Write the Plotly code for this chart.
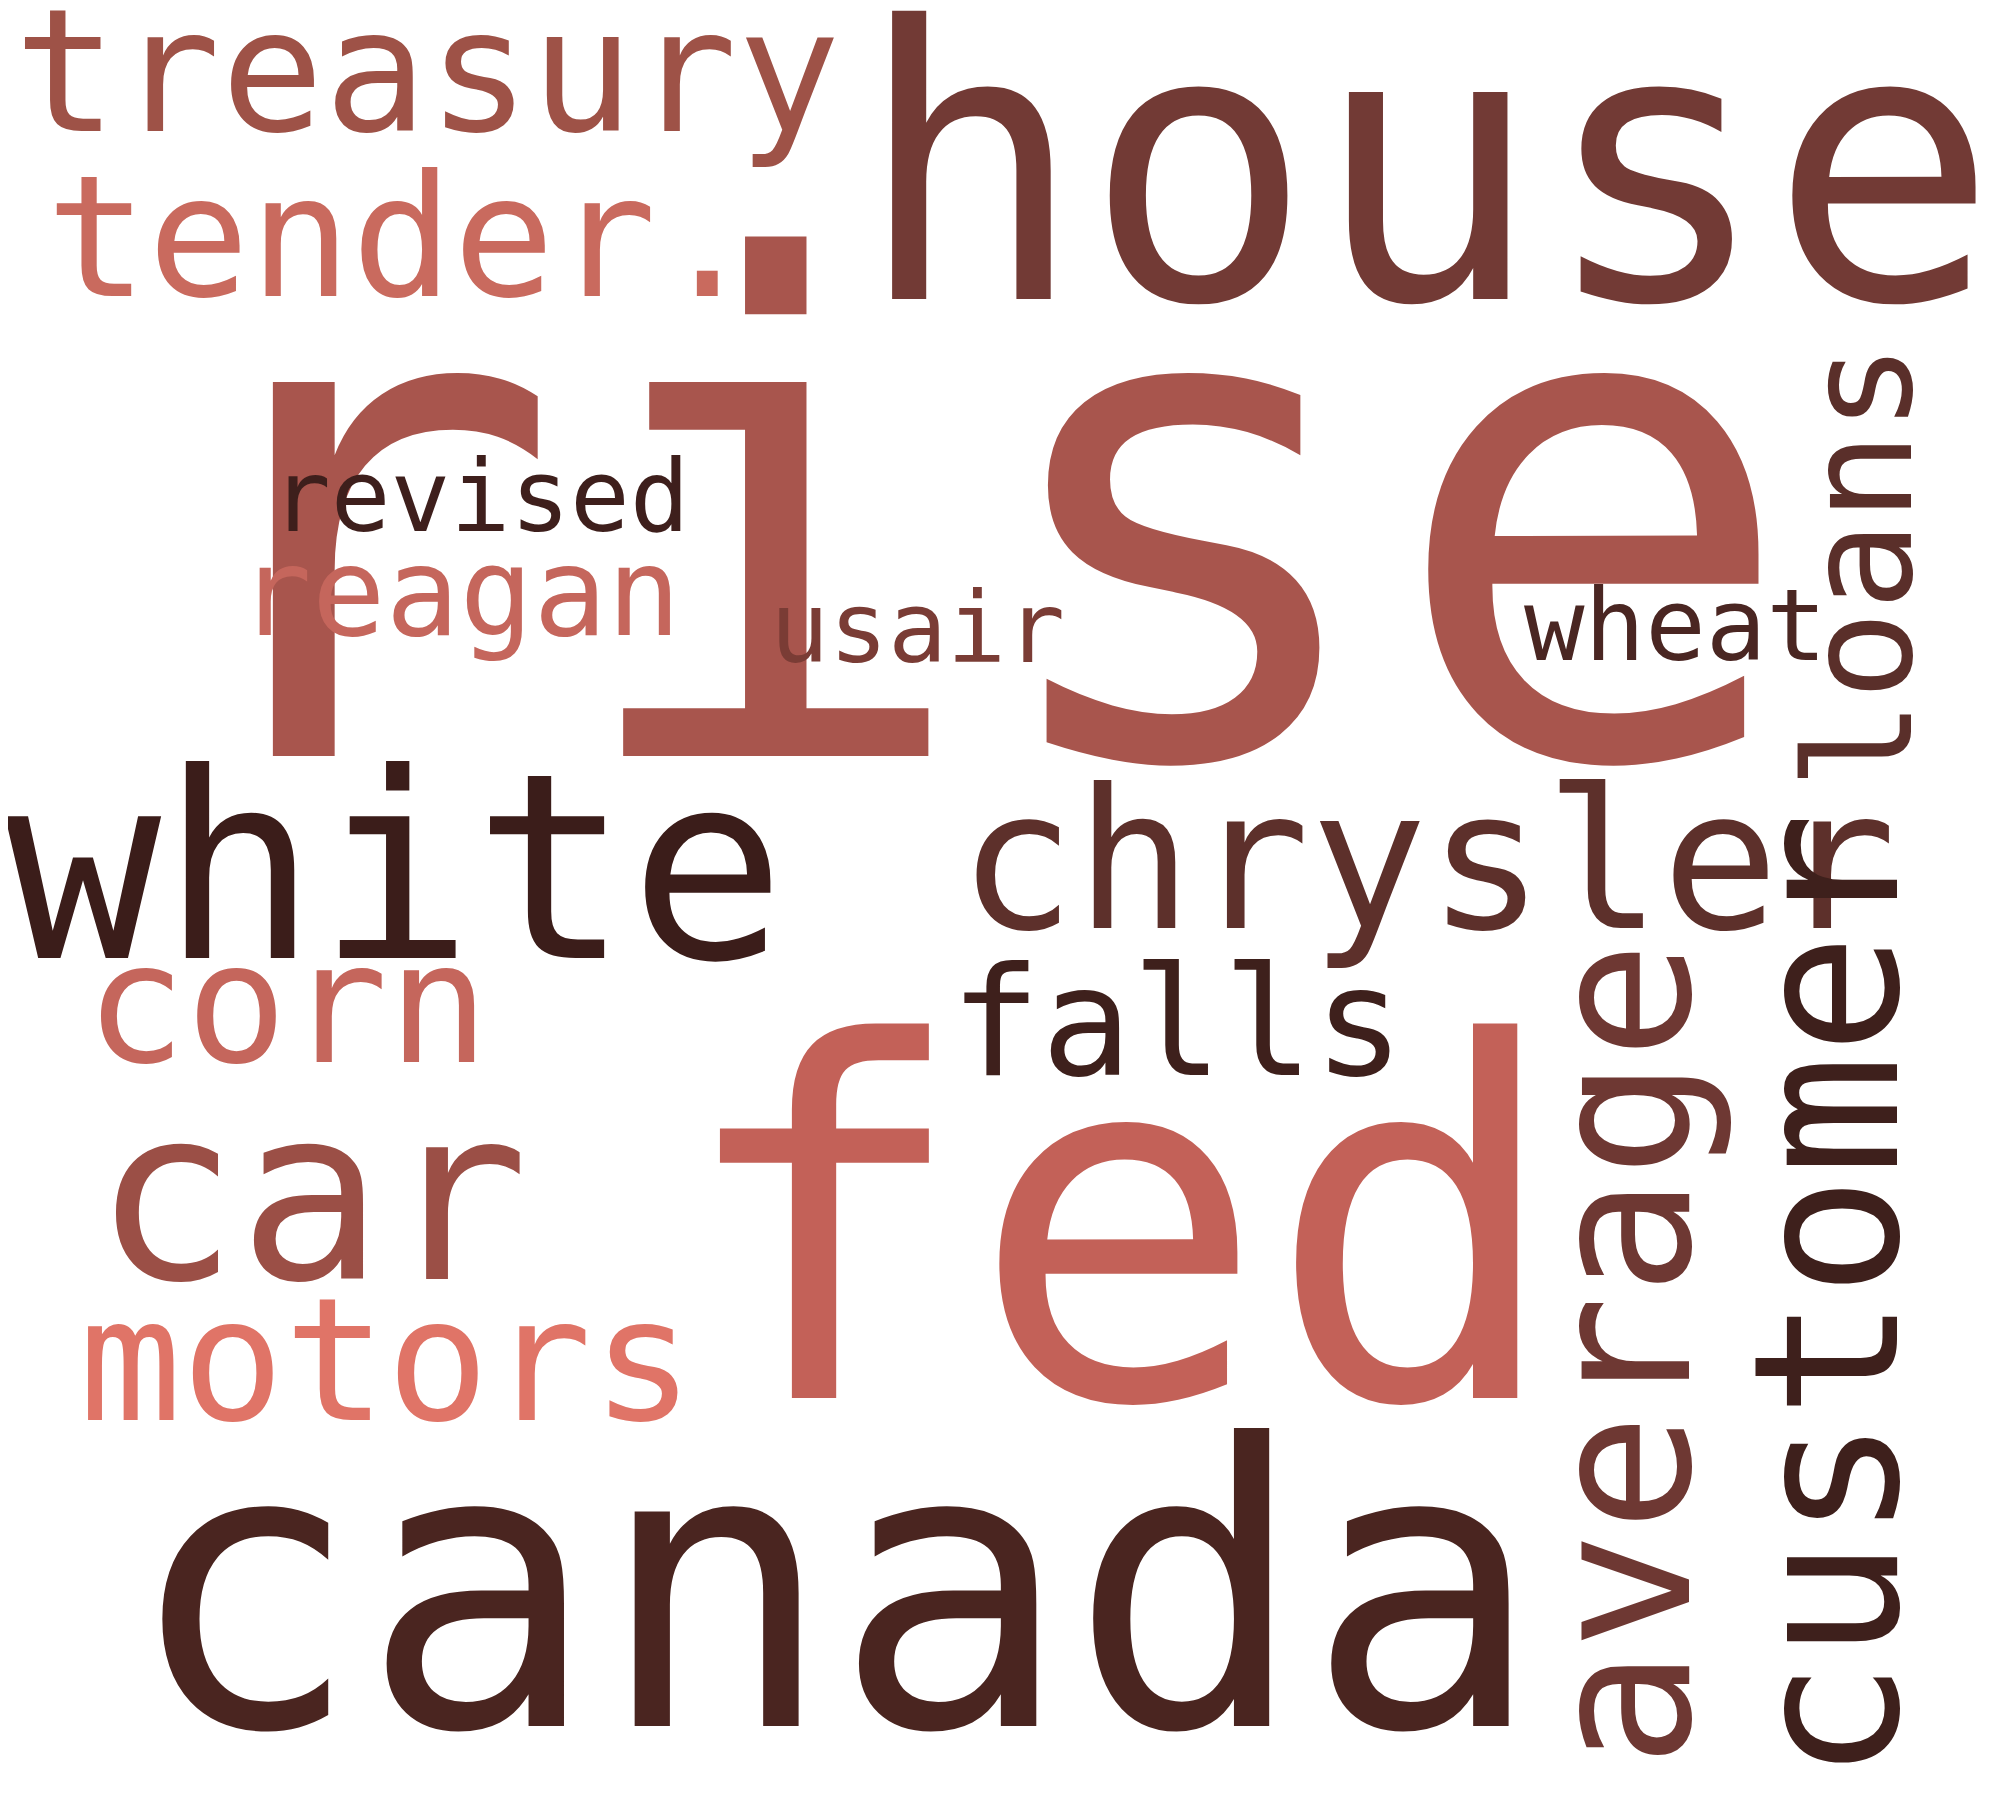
import plotly.graph_objects as go

words = ["rise", "house", "treasury", "tender.", "revised", "reagan", "usair", "wheat",
         "loans", "white", "chrysler", "corn", "falls", "car", "fed", "average",
         "customer", "motors", "canada"]
x_pos = [750, 1100, 325, 305, 366, 350, 705, 1292, 1435, 300, 1100, 216, 906, 235, 860,
         1250, 1410, 293, 640]
y_pos = [400, 125, 50, 180, 383, 458, 486, 484, 437, 674, 668, 780, 795, 930, 955,
         1055, 1010, 1060, 1240]
sizes = [530, 294, 133, 131, 77, 95, 76, 78, 115, 201, 151, 130, 117, 187, 382,
         152, 156, 132, 304]
angles = [0, 0, 0, 0, 0, 0, 0, 0, -90, 0, 0, 0, 0, 0, 0, -90, -90, 0, 0]
colors = ["#A8554D", "#723A35", "#9E5247", "#C96A5E", "#3E1F1C", "#C5665C", "#7A3C35",
          "#4A2622", "#5A2F2A", "#3B1D1A", "#5D302B", "#C5665C", "#3E201C", "#9B4F46",
          "#C36158", "#6E3833", "#3E201C", "#E07467", "#4A2520"]

W, H = 1550, 1410
scale = 2000 / W

fig = go.Figure()
for w, x, y, s, a, c in zip(words, x_pos, y_pos, sizes, angles, colors):
    fig.add_annotation(x=x, y=y, text=w, showarrow=False, textangle=a,
                       xanchor="center", yanchor="middle",
                       font=dict(family="DejaVu Sans Mono", size=s * scale, color=c))

fig.update_xaxes(range=[0, W], visible=False)
fig.update_yaxes(range=[H, 0], visible=False)
fig.update_layout(width=2000, height=1800, margin=dict(l=0, r=0, t=0, b=0),
                  plot_bgcolor="white", paper_bgcolor="white", showlegend=False)
fig.write_html("out.html")
